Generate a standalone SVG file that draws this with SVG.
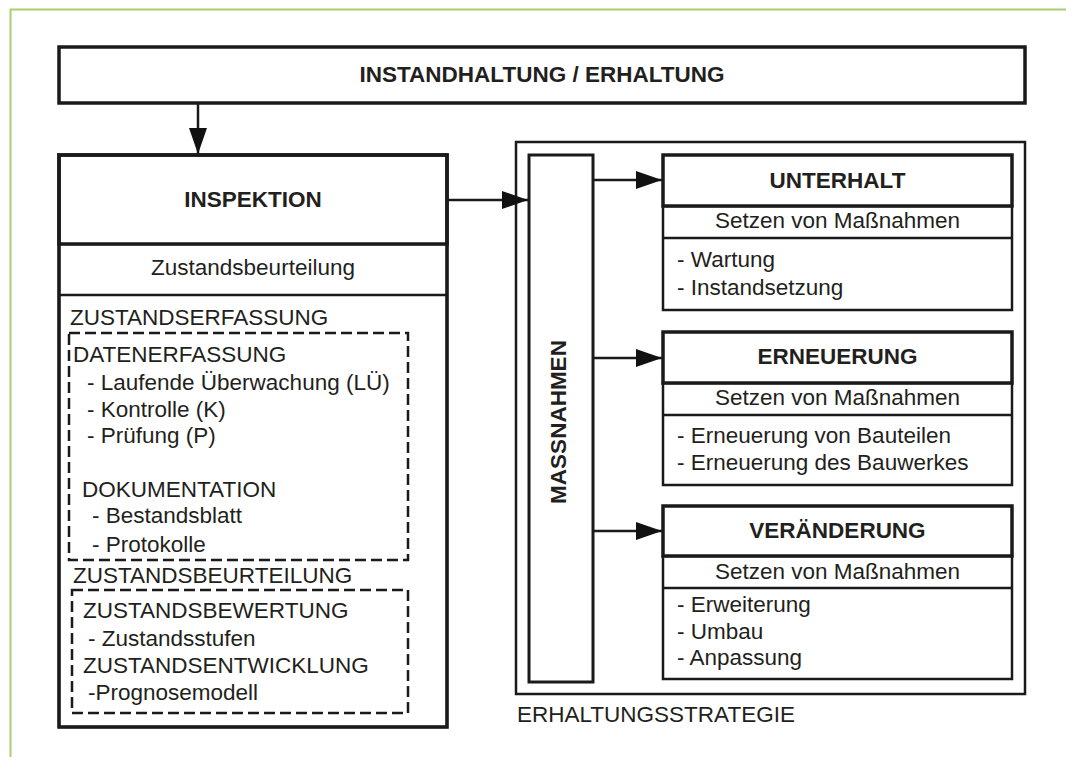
<svg xmlns="http://www.w3.org/2000/svg" width="1066" height="757" viewBox="0 0 1066 757">
<style>
text{font-family:"Liberation Sans",Arial,sans-serif;font-size:22.5px;fill:#231f20}
.b{font-weight:bold}
.c{text-anchor:middle}
.thick{fill:#fff;stroke:#1a1a1a;stroke-width:3.5}
.thin{fill:#fff;stroke:#1a1a1a;stroke-width:2.5}
.dash{fill:none;stroke:#1a1a1a;stroke-width:2.5;stroke-dasharray:11 5}
.con{fill:none;stroke:#1a1a1a;stroke-width:2.5}
</style>
<defs>
<marker id="ah" markerUnits="userSpaceOnUse" markerWidth="26" markerHeight="20" refX="26" refY="10" orient="auto">
<path d="M0,1 L26,10 L0,19 z" fill="#111"/>
</marker>
</defs>
<rect width="1066" height="757" fill="#fff"/>
<path d="M10.5,757 V9.5 H1066" fill="none" stroke="#a9cf73" stroke-width="2"/>

<g id="top">
<rect class="thick" x="59" y="47" width="966" height="56"/>
<text class="b c" x="542" y="82">INSTANDHALTUNG / ERHALTUNG</text>
</g>

<g id="inspektion">
<rect class="thin" x="59" y="244" width="388" height="483"/>
<line class="thin" x1="59" y1="295" x2="447" y2="295"/>
<rect class="thick" x="59" y="155" width="388" height="89"/>
<rect x="59" y="155" width="388" height="572" style="fill:none;stroke:#1a1a1a;stroke-width:3.5"/>
<text class="b c" x="253" y="207">INSPEKTION</text>
<text class="c" x="253" y="275">Zustandsbeurteilung</text>
<text x="70" y="325">ZUSTANDSERFASSUNG</text>
<rect class="dash" x="69" y="333" width="339" height="227"/>
<text x="73" y="362">DATENERFASSUNG</text>
<text x="87" y="390">- Laufende Überwachung (LÜ)</text>
<text x="87" y="417">- Kontrolle (K)</text>
<text x="87" y="443">- Prüfung (P)</text>
<text x="82" y="497">DOKUMENTATION</text>
<text x="92" y="523">- Bestandsblatt</text>
<text x="92" y="552">- Protokolle</text>
<text x="73" y="583">ZUSTANDSBEURTEILUNG</text>
<rect class="dash" x="72" y="590" width="336" height="123"/>
<text x="83" y="618">ZUSTANDSBEWERTUNG</text>
<text x="88" y="646">- Zustandsstufen</text>
<text x="83" y="673">ZUSTANDSENTWICKLUNG</text>
<text x="88" y="700">-Prognosemodell</text>
</g>

<g id="erhaltungsstrategie">
<rect class="thin" x="516" y="142" width="509" height="552"/>
<text x="517" y="722">ERHALTUNGSSTRATEGIE</text>
</g>

<g id="massnahmen">
<rect class="thick" x="529" y="155" width="64" height="527" style="stroke-width:3"/>
<text class="b c" transform="translate(566,422) rotate(-90)" x="0" y="0">MASSNAHMEN</text>
</g>

<g id="unterhalt">
<rect class="thin" x="663" y="206" width="349" height="104"/>
<line class="thin" x1="663" y1="238" x2="1012" y2="238"/>
<rect class="thick" x="663" y="155" width="349" height="51"/>
<text class="b c" x="837.5" y="188">UNTERHALT</text>
<text class="c" x="837.5" y="228">Setzen von Maßnahmen</text>
<text x="677" y="267">- Wartung</text>
<text x="677" y="295">- Instandsetzung</text>
</g>

<g id="erneuerung">
<rect class="thin" x="663" y="383" width="349" height="102"/>
<line class="thin" x1="663" y1="415" x2="1012" y2="415"/>
<rect class="thick" x="663" y="332" width="349" height="51"/>
<text class="b c" x="837.5" y="364">ERNEUERUNG</text>
<text class="c" x="837.5" y="405">Setzen von Maßnahmen</text>
<text x="677" y="443">- Erneuerung von Bauteilen</text>
<text x="677" y="470">- Erneuerung des Bauwerkes</text>
</g>

<g id="veraenderung">
<rect class="thin" x="663" y="556" width="349" height="123"/>
<line class="thin" x1="663" y1="588" x2="1012" y2="588"/>
<rect class="thick" x="663" y="506" width="349" height="50"/>
<text class="b c" x="837.5" y="538">VERÄNDERUNG</text>
<text class="c" x="837.5" y="579">Setzen von Maßnahmen</text>
<text x="677" y="612">- Erweiterung</text>
<text x="677" y="639">- Umbau</text>
<text x="677" y="665">- Anpassung</text>
</g>

<g id="connectors">
<line class="con" x1="198" y1="103" x2="198" y2="154" marker-end="url(#ah)"/>
<line class="con" x1="447" y1="200" x2="528" y2="200" marker-end="url(#ah)"/>
<line class="con" x1="593" y1="180" x2="662" y2="180" marker-end="url(#ah)"/>
<line class="con" x1="593" y1="358" x2="662" y2="358" marker-end="url(#ah)"/>
<line class="con" x1="593" y1="531" x2="662" y2="531" marker-end="url(#ah)"/>
</g>
</svg>
